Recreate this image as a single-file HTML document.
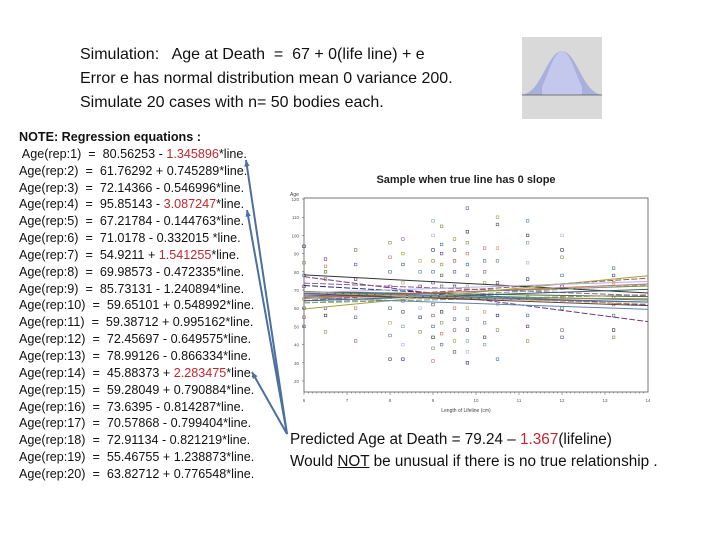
<!DOCTYPE html>
<html><head><meta charset="utf-8"><style>
body{margin:0;background:#fff;width:720px;height:540px;overflow:hidden;position:relative;font-family:"Liberation Sans",sans-serif}
.hdr{position:absolute;left:80px;font-size:16px;color:#111;white-space:pre}
#eqs{position:absolute;left:19px;top:129px;font-size:12.6px;line-height:16.85px;color:#111;white-space:pre}
.r{color:#c0272d}
.pred{position:absolute;left:290px;font-size:15.3px;color:#111;white-space:nowrap}
</style></head><body>
<div class="hdr" style="top:46px">Simulation:   Age at Death  =  67 + 0(life line) + e</div>
<div class="hdr" style="top:70px">Error e has normal distribution mean 0 variance 200.</div>
<div class="hdr" style="top:94px">Simulate 20 cases with n= 50 bodies each.</div>
<svg style="position:absolute;left:522px;top:37px" width="80" height="82">
<rect width="80" height="82" fill="#d9d9d9"/>
<path d="M0,58 C20,55 25,15 40,14 C55,15 60,55 80,58 Z" fill="#aab0dc"/>
<path d="M20,50 C27,35 32,15 40,14 C48,15 53,35 60,50 L60,58 L20,58Z" fill="#c4c8ec"/>
<line x1="0" y1="58" x2="80" y2="58" stroke="#555" stroke-width="0.7"/>
</svg>
<div id="eqs"><b>NOTE: Regression equations :</b>
 Age(rep:1)  =  80.56253 - <span class="r">1.345896</span>*line.
Age(rep:2)  =  61.76292 + 0.745289*line.
Age(rep:3)  =  72.14366 - 0.546996*line.
Age(rep:4)  =  95.85143 - <span class="r">3.087247</span>*line.
Age(rep:5)  =  67.21784 - 0.144763*line.
Age(rep:6)  =  71.0178 - 0.332015 *line.
Age(rep:7)  =  54.9211 + <span class="r">1.541255</span>*line.
Age(rep:8)  =  69.98573 - 0.472335*line.
Age(rep:9)  =  85.73131 - 1.240894*line.
Age(rep:10)  =  59.65101 + 0.548992*line.
Age(rep:11)  =  59.38712 + 0.995162*line.
Age(rep:12)  =  72.45697 - 0.649575*line.
Age(rep:13)  =  78.99126 - 0.866334*line.
Age(rep:14)  =  45.88373 + <span class="r">2.283475</span>*line.
Age(rep:15)  =  59.28049 + 0.790884*line.
Age(rep:16)  =  73.6395 - 0.814287*line.
Age(rep:17)  =  70.57868 - 0.799404*line.
Age(rep:18)  =  72.91134 - 0.821219*line.
Age(rep:19)  =  55.46755 + 1.238873*line.
Age(rep:20)  =  63.82712 + 0.776548*line.</div>
<div class="pred" style="top:431px">Predicted Age at Death = 79.24 – <span class="r">1.367</span>(lifeline)</div>
<div class="pred" style="top:453px">Would <u>NOT</u> be unusual if there is no true relationship .</div>
<svg id="chart" style="position:absolute;left:0;top:0" width="720" height="540"></svg>
<script>
const intercepts=[80.56253,61.76292,72.14366,95.85143,67.21784,71.0178,54.9211,69.98573,85.73131,59.65101,59.38712,72.45697,78.99126,45.88373,59.28049,73.6395,70.57868,72.91134,55.46755,63.82712];
const slopes=[-1.345896,0.745289,-0.546996,-3.087247,-0.144763,-0.332015,1.541255,-0.472335,-1.240894,0.548992,0.995162,-0.649575,-0.866334,2.283475,0.790884,-0.814287,-0.799404,-0.821219,1.238873,0.776548];
const colX=[6,6.5,7.2,8,8.3,8.7,9,9.2,9.5,9.8,10.2,10.5,11.2,12,13.2];
const colY=[[94,85,78,72,65,60,55,50],[87,83,80,76,60,56,47],[92,84,76,65,60,55,42],[96,88,80,72,66,60,52,45,32],[98,90,84,74,64,58,50,40,32],[86,80,72,66,60,55,47],[108,100,92,86,80,74,68,62,56,50,44,38,31],[105,95,90,84,78,72,66,58,52,46,40],[98,92,86,80,72,66,60,54,48,42,36],[115,102,96,90,84,78,72,66,60,54,48,42,36,30],[93,86,80,74,66,58,52,44,40],[110,106,93,86,74,68,62,56,48,32],[108,100,96,85,76,66,56,50,42],[100,92,88,78,72,66,60,48,44],[82,78,74,66,62,56,48,44]];
const xTicks=[6,7,8,9,10,11,12,13,14];
const yTicks=[20,30,40,50,60,70,80,90,100,110,120];
const colors=['#2b2b7a','#8a8a3a','#3a7a9a','#6a3a7a','#b08a3a','#4a6a4a','#9a5a5a','#5a5a9a','#333','#7a9a5a','#c07070','#507090','#906090','#a0a040','#406060','#c0a060','#6080b0','#604040','#80a0a0','#b0b0e0'];
const svg=document.getElementById('chart');const NS='http://www.w3.org/2000/svg';
const L=304,R=648,T=198,B=392;
const xs=v=>L+(v-6)/(14-6)*(R-L);
const ys=v=>381-(v-20)/100*(381-199);
function mk(t,a){const e=document.createElementNS(NS,t);for(const k in a)e.setAttribute(k,a[k]);svg.appendChild(e);return e;}
let e=mk('text',{x:466,y:183,'font-size':11,'font-weight':'bold','text-anchor':'middle',fill:'#222'});e.textContent='Sample when true line has 0 slope';


e=mk('rect',{x:L,y:T,width:R-L,height:B-T,fill:'none',stroke:'#555','stroke-width':0.8});


e=mk('text',{x:290,y:196,'font-size':5,fill:'#444'});e.textContent='Age';


yTicks.forEach(v=>{let t=mk('text',{x:299,y:ys(v)+2,'font-size':4.5,'text-anchor':'end',fill:'#555'});t.textContent=v;


mk('line',{x1:L-2,x2:L,y1:ys(v),y2:ys(v),stroke:'#555','stroke-width':0.5});});
xTicks.forEach(v=>{let t=mk('text',{x:xs(v),y:402,'font-size':4.5,'text-anchor':'middle',fill:'#555'});t.textContent=v;


for(let k=0;k<10&&v<14;k++)mk('line',{x1:xs(v+k*0.1),x2:xs(v+k*0.1),y1:B,y2:B+(k?1.5:3),stroke:'#555','stroke-width':0.5});});
e=mk('text',{x:466,y:412,'font-size':5,'text-anchor':'middle',fill:'#444'});e.textContent='Length of Lifeline (cm)';


colX.forEach((cx,i)=>colY[i].forEach((v,j)=>{let p=mk('rect',{x:xs(cx)-1.3,y:ys(v)-1.3,width:2.6,height:2.6,fill:'none',stroke:colors[(i*3+j)%20],'stroke-width':0.6});

}));
intercepts.forEach((a,i)=>{let l=mk('line',{x1:xs(6),y1:ys(a+slopes[i]*6),x2:xs(14),y2:ys(a+slopes[i]*14),stroke:colors[i],'stroke-width':1,'stroke-dasharray':i%3==0?'6,2':'none'});

});
[[246,160],[247,210],[252,372]].forEach(([x,y])=>{let a=mk('line',{x1:287,y1:434,x2:x,y2:y,stroke:'#4a6fa0','stroke-width':2});


const ang=Math.atan2(y-434,x-287),s=7;
mk('polygon',{points:`${x},${y} ${x-s*Math.cos(ang-0.4)},${y-s*Math.sin(ang-0.4)} ${x-s*Math.cos(ang+0.4)},${y-s*Math.sin(ang+0.4)}`,fill:'#4a6fa0'});});
</script>
</body></html>
